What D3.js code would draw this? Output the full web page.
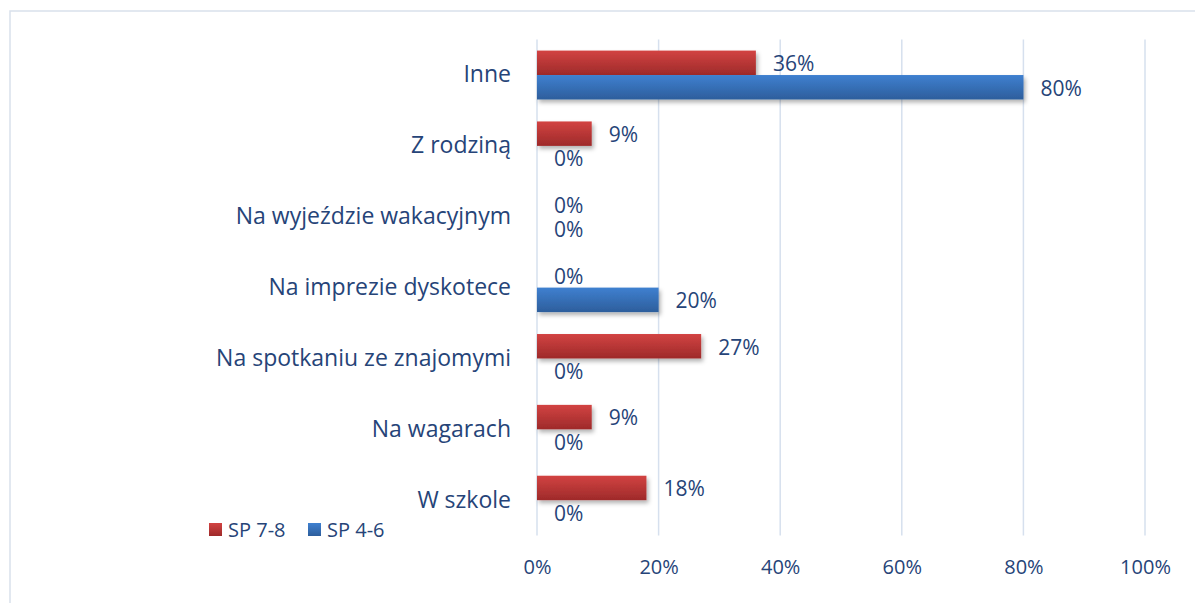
<!DOCTYPE html>
<html>
<head>
<meta charset="utf-8">
<script src="https://cdn.jsdelivr.net/npm/d3@7"></script>
<style>
  html, body { margin: 0; padding: 0; background: #fff; }
  svg { display: block; }
</style>
</head>
<body>
<svg id="chart" width="1195" height="603"></svg>
<script>
const categories = ["Inne", "Z rodziną", "Na wyjeździe wakacyjnym", "Na imprezie dyskotece",
  "Na spotkaniu ze znajomymi", "Na wagarach", "W szkole"];
const seriesNames = ["SP 7-8", "SP 4-6"];
const sp78 = [36, 9, 0, 0, 27, 9, 18];
const sp46 = [80, 0, 0, 20, 0, 0, 0];
const xTicks = [0, 20, 40, 60, 80, 100];

const textColor = "#264478";
const fontFamily = "'Open Sans', sans-serif";

const svg = d3.select("#chart");
const defs = svg.append("defs");

function gradient(id, top, bottom) {
  const g = defs.append("linearGradient").attr("id", id)
    .attr("x1", 0).attr("y1", 0).attr("x2", 0).attr("y2", 1);
  g.append("stop").attr("offset", "0%").attr("stop-color", top);
  g.append("stop").attr("offset", "100%").attr("stop-color", bottom);
}
gradient("gRed", "#d24342", "#9e2a2a");
gradient("gBlue", "#3f80d0", "#2d5e9c");

const shadow = defs.append("filter").attr("id", "shadow")
  .attr("x", "-5%").attr("y", "-30%").attr("width", "115%").attr("height", "180%");
shadow.append("feDropShadow").attr("dx", 2).attr("dy", 3).attr("stdDeviation", 2)
  .attr("flood-color", "#000").attr("flood-opacity", 0.3);

// outer frame
svg.append("rect").attr("x", 10).attr("y", 11).attr("width", 1195).attr("height", 600)
  .attr("fill", "none").attr("stroke", "#d9e1ec").attr("stroke-width", 1.5);

const x = d3.scaleLinear().domain([0, 100]).range([537, 1145]);
const y = d3.scaleBand().domain(categories).range([39.6, 535.6]).paddingInner(0.31).paddingOuter(0.155);
const ySub = d3.scaleBand().domain(seriesNames).range([0, y.bandwidth()]);

// vertical gridlines
svg.append("g").selectAll("line").data(xTicks).join("line")
  .attr("x1", d => x(d)).attr("x2", d => x(d))
  .attr("y1", 39.6).attr("y2", 535.6)
  .attr("stroke", "#d6e0ee").attr("stroke-width", 1.5);

// x axis labels
const xAxis = d3.axisBottom(x).tickValues(xTicks).tickFormat(d => d + "%").tickSize(0).tickPadding(0);
const gx = svg.append("g").attr("transform", "translate(0,567)").call(xAxis);
gx.select(".domain").remove();
gx.selectAll("text").attr("fill", textColor).attr("font-size", 20).attr("font-family", fontFamily)
  .attr("dy", "0.35em");

// category labels
const yAxis = d3.axisLeft(y).tickSize(0).tickPadding(0);
const gy = svg.append("g").attr("transform", "translate(511,0)").call(yAxis);
gy.select(".domain").remove();
gy.selectAll("text").attr("fill", textColor).attr("font-size", 23).attr("font-family", fontFamily);

const rows = categories.map((c, i) => ({ cat: c, vals: [sp78[i], sp46[i]] }));
const fills = ["url(#gRed)", "url(#gBlue)"];

const groups = svg.append("g").selectAll("g").data(rows).join("g")
  .attr("transform", d => `translate(0,${y(d.cat)})`);

groups.selectAll("rect").data(d => d.vals.map((v, j) => ({ v, s: seriesNames[j], j })).filter(d => d.v > 0))
  .join("rect")
  .attr("x", x(0)).attr("y", d => ySub(d.s))
  .attr("width", d => x(d.v) - x(0)).attr("height", ySub.bandwidth())
  .attr("fill", d => fills[d.j]).attr("filter", "url(#shadow)");

groups.selectAll("text").data(d => d.vals.map((v, j) => ({ v, s: seriesNames[j] })))
  .join("text")
  .attr("x", d => x(d.v) + 17)
  .attr("y", d => ySub(d.s) + ySub.bandwidth() / 2 + 1)
  .attr("dy", "0.35em")
  .attr("fill", textColor).attr("font-size", 21).attr("font-family", fontFamily)
  .text(d => d.v + "%");

// legend
const legend = svg.append("g").attr("transform", "translate(209,523)");
const items = [{ n: seriesNames[0], f: fills[0], x: 0 }, { n: seriesNames[1], f: fills[1], x: 99 }];
const li = legend.selectAll("g").data(items).join("g").attr("transform", d => `translate(${d.x},0)`);
li.append("rect").attr("width", 13).attr("height", 13).attr("fill", d => d.f);
li.append("text").attr("x", 19).attr("y", 7).attr("dy", "0.35em")
  .attr("fill", textColor).attr("font-size", 20).attr("font-family", fontFamily).text(d => d.n);
</script>
</body>
</html>
